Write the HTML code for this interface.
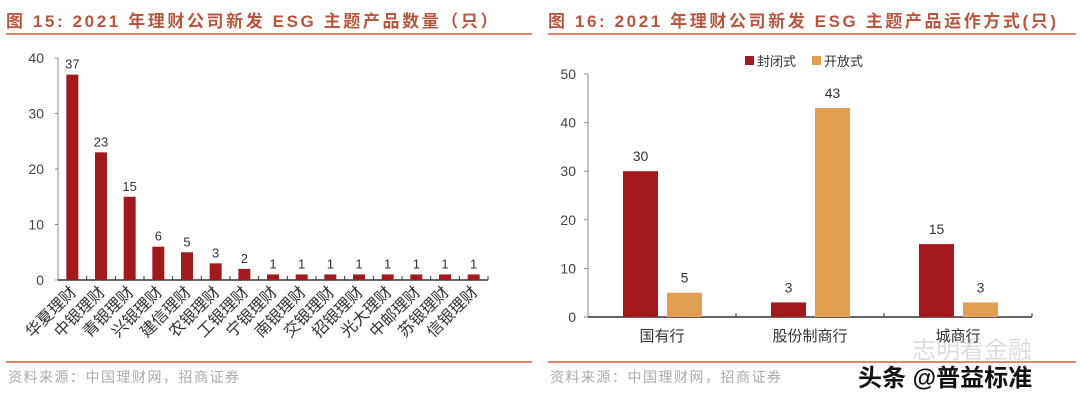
<!DOCTYPE html>
<html><head><meta charset="utf-8"><style>
body{margin:0;background:#fff;width:1080px;height:401px;overflow:hidden;font-family:"Liberation Sans","Noto Sans CJK SC",sans-serif}
svg text{font-family:"Liberation Sans","Noto Sans CJK SC",sans-serif}
</style></head><body>
<svg width="1080" height="401">
<text x="6" y="27" font-size="17" font-weight="bold" fill="#b8563e" letter-spacing="2.6">图 15:  2021 年理财公司新发 ESG 主题产品数量（只）</text>
<text x="548" y="27" font-size="17" font-weight="bold" fill="#b8563e" letter-spacing="2.6">图 16: 2021 年理财公司新发 ESG 主题产品运作方式(只)</text>
<line x1="6" y1="34" x2="532" y2="34" stroke="#e0866e" stroke-width="2"/>
<line x1="548" y1="34" x2="1076" y2="34" stroke="#e0866e" stroke-width="2"/>
<line x1="6" y1="362" x2="532" y2="362" stroke="#e0866e" stroke-width="2"/>
<line x1="548" y1="362" x2="1076" y2="362" stroke="#e0866e" stroke-width="2"/>
<text x="8" y="382" font-size="14" fill="#aaa" letter-spacing="1.5">资料来源：中国理财网，招商证券</text>
<text x="550" y="382" font-size="14" fill="#aaa" letter-spacing="1.5">资料来源：中国理财网，招商证券</text>
<text x="912" y="358" font-size="24" fill="#ddd">志明看金融</text>
<text x="858" y="386" font-size="24" fill="#111" font-weight="bold">头条 @普益标准</text>
<g id="left"></g>
<g id="right"></g>
</svg>
<script>
const leftCats=["华夏理财","中银理财","青银理财","兴银理财","建信理财","农银理财","工银理财","宁银理财","南银理财","交银理财","招银理财","光大理财","中邮理财","苏银理财","信银理财"];
const leftVals=[37,23,15,6,5,3,2,1,1,1,1,1,1,1,1];
const leftTicks=[0,10,20,30,40];
const rightCats=["国有行","股份制商行","城商行"];
const closedVals=[30,3,15];
const openVals=[5,43,3];
const rightTicks=[0,10,20,30,40,50];
const NS="http://www.w3.org/2000/svg";
function mk(p,t,a){const e=document.createElementNS(NS,t);for(const k in a)e.setAttribute(k,a[k]);p.appendChild(e);return e;}
const L=document.getElementById('left');
const ly=v=>280-v*(222/40), lx0=58, lx1=488, lstep=(lx1-lx0)/leftCats.length;
mk(L,'line',{x1:lx0,y1:ly(40),x2:lx0,y2:280,stroke:'#888'});
mk(L,'line',{x1:lx0,y1:280,x2:lx1,y2:280,stroke:'#333','stroke-width':1.5});
leftTicks.forEach(t=>{mk(L,'line',{x1:lx0-3,y1:ly(t),x2:lx0,y2:ly(t),stroke:'#888'});
const tx=mk(L,'text',{x:44,y:ly(t)+5,'text-anchor':'end','font-size':14,fill:'#444'});tx.textContent=t;

});
leftCats.forEach((c,i)=>{const cx=lx0+lstep*(i+0.5);
mk(L,'line',{x1:lx0+lstep*(i+1),y1:276,x2:lx0+lstep*(i+1),y2:280,stroke:'#333'});
const r=mk(L,'rect',{x:cx-6,y:ly(leftVals[i]),width:12,height:280-ly(leftVals[i]),fill:'#a31a1c'});


const v=mk(L,'text',{x:cx,y:ly(leftVals[i])-6,'text-anchor':'middle','font-size':13,fill:'#333'});v.textContent=leftVals[i];


const lb=mk(L,'text',{x:cx+5,y:293,'text-anchor':'end','font-size':16,fill:'#333',transform:`rotate(-45 ${cx+5} 293)`});lb.textContent=c;

});
const R=document.getElementById('right');
const ry=v=>317-v*(243/50), rx0=588, rx1=1032, rstep=(rx1-rx0)/rightCats.length;
mk(R,'line',{x1:rx0,y1:ry(50),x2:rx0,y2:317,stroke:'#888'});
mk(R,'line',{x1:rx0,y1:317,x2:rx1,y2:317,stroke:'#333','stroke-width':1.5});
rightTicks.forEach(t=>{mk(R,'line',{x1:rx0-4,y1:ry(t),x2:rx0,y2:ry(t),stroke:'#888'});
const tx=mk(R,'text',{x:576,y:ry(t)+5,'text-anchor':'end','font-size':14,fill:'#444'});tx.textContent=t;

});
rightCats.forEach((c,i)=>{const cx=rx0+rstep*(i+0.5);
mk(R,'line',{x1:rx0+rstep*(i+1),y1:313,x2:rx0+rstep*(i+1),y2:317,stroke:'#333'});
[[closedVals[i],'#a31a1c',-39],[openVals[i],'#e29f53',5]].forEach(([val,col,off])=>{
const r=mk(R,'rect',{x:cx+off,y:ry(val),width:35,height:317-ry(val),fill:col});


const t=mk(R,'text',{x:cx+off+17.5,y:ry(val)-10,'text-anchor':'middle','font-size':14,fill:'#333'});t.textContent=val;

});
const lb=mk(R,'text',{x:cx,y:341,'text-anchor':'middle','font-size':15,fill:'#333'});lb.textContent=c;

});
[['封闭式','#a31a1c',745],['开放式','#e29f53',812]].forEach(([n,col,x])=>{
const g=mk(R,'g',{});


mk(g,'rect',{x:x,y:56,width:9,height:9,fill:col});
const t=mk(g,'text',{x:x+12,y:66,'font-size':13,fill:'#333'});t.textContent=n;});
</script>
</body></html>
